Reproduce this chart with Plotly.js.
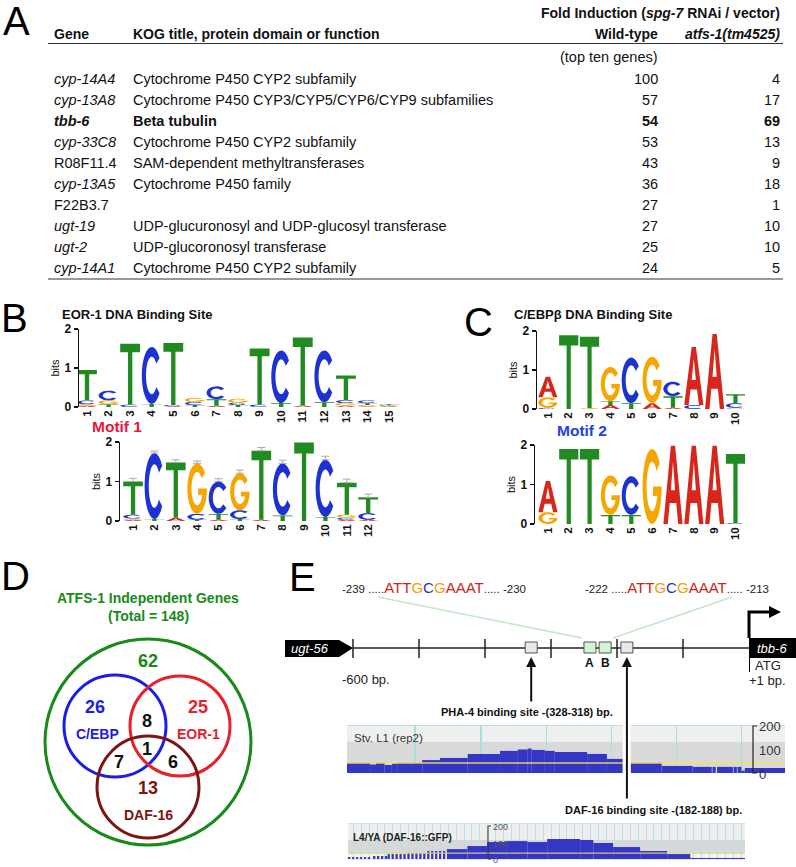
<!DOCTYPE html>
<html>
<head>
<meta charset="utf-8">
<script src="https://cdn.plot.ly/plotly-3.0.1.min.js"></script>
<style>
html, body { margin: 0; padding: 0; background: #fff; }
#graph { width: 796px; height: 867px; }
</style>
</head>
<body>
<div id="graph"></div>
<script>
var W = 796, H = 867;
var FONT = "Liberation Sans, Arial, Helvetica, sans-serif";

// ---------- A: table
var genes = ["cyp-14A4", "cyp-13A8", "tbb-6", "cyp-33C8", "R08F11.4", "cyp-13A5", "F22B3.7", "ugt-19", "ugt-2", "cyp-14A1"];
var geneItalic = [true, true, true, true, false, true, false, true, true, true];
var functions = [
    "Cytochrome P450 CYP2 subfamily",
    "Cytochrome P450 CYP3/CYP5/CYP6/CYP9 subfamilies",
    "Beta tubulin",
    "Cytochrome P450 CYP2 subfamily",
    "SAM-dependent methyltransferases",
    "Cytochrome P450 family",
    "",
    "UDP-glucuronosyl and UDP-glucosyl transferase",
    "UDP-glucoronosyl transferase",
    "Cytochrome P450 CYP2 subfamily"
];
var wildTypeFold = [100, 57, 54, 53, 43, 36, 27, 27, 25, 24];
var atfsFold = [4, 17, 69, 13, 9, 18, 1, 10, 10, 5];
var boldGene = "tbb-6";

// ---------- B / C: sequence logos, each stack bottom -> top [base, bits]
var eorSite = [
    [["A", 0.03], ["G", 0.04], ["C", 0.10], ["T", 0.78]],
    [["T", 0.07], ["G", 0.10], ["C", 0.25]],
    [["C", 0.06], ["T", 1.56]],
    [["T", 0.08], ["C", 1.46]],
    [["A", 0.02], ["C", 0.03], ["T", 1.59]],
    [["T", 0.05], ["C", 0.08], ["G", 0.10]],
    [["A", 0.03], ["T", 0.17], ["C", 0.33]],
    [["T", 0.05], ["C", 0.06], ["G", 0.10]],
    [["C", 0.06], ["T", 1.44]],
    [["T", 0.10], ["C", 1.35]],
    [["A", 0.04], ["T", 1.74]],
    [["T", 0.12], ["C", 1.33]],
    [["A", 0.04], ["G", 0.06], ["C", 0.08], ["T", 0.63]],
    [["A", 0.02], ["G", 0.03], ["T", 0.05], ["C", 0.07]],
    [["G", 0.02], ["C", 0.02], ["T", 0.03]]
];
var motif1 = [
    [["A", 0.03], ["G", 0.03], ["C", 0.10], ["T", 0.84]],
    [["T", 0.05], ["C", 1.67]],
    [["A", 0.08], ["T", 1.40]],
    [["T", 0.03], ["C", 0.15], ["G", 1.28]],
    [["A", 0.03], ["T", 0.15], ["C", 0.82]],
    [["T", 0.05], ["C", 0.22], ["G", 0.94]],
    [["A", 0.03], ["T", 1.75]],
    [["T", 0.14], ["C", 1.32]],
    [["T", 1.99]],
    [["T", 0.10], ["C", 1.45]],
    [["A", 0.03], ["C", 0.05], ["G", 0.08], ["T", 0.81]],
    [["A", 0.03], ["C", 0.17], ["T", 0.40]]
];
var motif1Err = [0.08, 0.05, 0.07, 0.06, 0.07, 0.08, 0.08, 0.08, 0.06, 0.09, 0.09, 0.08];
var cebpSite = [
    [["C", 0.03], ["G", 0.27], ["A", 0.53]],
    [["T", 1.89]],
    [["G", 0.02], ["T", 1.83]],
    [["A", 0.10], ["T", 0.10], ["G", 0.88]],
    [["T", 0.15], ["C", 1.17]],
    [["A", 0.15], ["G", 1.19]],
    [["A", 0.03], ["T", 0.30], ["C", 0.37]],
    [["C", 0.10], ["A", 1.49]],
    [["A", 1.92]],
    [["G", 0.03], ["C", 0.12], ["T", 0.23]]
];
var motif2 = [
    [["G", 0.30], ["A", 0.79]],
    [["T", 1.90]],
    [["T", 1.90]],
    [["T", 0.23], ["G", 1.00]],
    [["T", 0.23], ["C", 0.98]],
    [["G", 1.90]],
    [["A", 1.98]],
    [["A", 1.98]],
    [["A", 1.98]],
    [["C", 0.02], ["T", 1.75]]
];

// ---------- D: Venn
var vennCounts = [62, 26, 25, 8, 1, 7, 6, 13];
var vennSets = ["C/EBP", "EOR-1", "DAF-16"];

// ---------- E: promoter and coverage tracks (bp)
var promoterTicks = [-600, -500, -400, -300, -200, -100];
var siteCenters = [-330, -241, -218, -185]; // PHA-4, A, B, DAF-16
var seqA = "ATTGCGAAAT";
var trk1Start = [-609, -574, -565, -552, -541, -533, -495, -468, -426, -377, -350, -335, -329, -309, -294, -245, -215, -179, -132, -85, -55, -48, -23, -17, -11, -6];
var trk1End   = [-574, -565, -552, -541, -533, -495, -468, -426, -377, -350, -335, -329, -309, -294, -245, -215, -191, -132, -85, -56, -50, -24, -18, -11, -6, 55];
var trk1Val   = [43, 36, 43, 34, 40, 43, 55, 64, 81, 94, 100, 104, 98, 94, 89, 81, 60, 43, 30, 26, 26, 26, 26, 26, 10, 21];
var trk2Start = [-608, -570, -548, -518, -488, -458, -427, -397, -367, -336, -306, -256, -236, -206, -165, -124, -89];
var trk2End   = [-570, -548, -518, -488, -458, -427, -397, -367, -336, -306, -256, -236, -206, -165, -124, -89, -6];
var trk2Val   = [12, 19, 31, 37, 50, 62, 81, 106, 112, 106, 125, 119, 100, 75, 50, 31, 6];
var trk2Striped = 5; // first segments drawn as thin columns

// ---------- helpers
var baseColor = { A: "#d8261c", C: "#1e32d2", G: "#f6a600", T: "#218a21" };
var seqColor = { A: "#cc2418", T: "#cc2418", G: "#f0a000", C: "#2233cc" };

function bpX(bp) { return 353 + (bp + 600) * 0.66; }

function ann(text, x, y, o) {
    o = o || {};
    return {
        text: text, x: x, y: y, xref: "x", yref: "y", showarrow: false,
        xanchor: o.xa || "left", yanchor: "middle",
        font: { family: FONT, size: o.size || 14.5, color: o.color || "#111", weight: o.weight || "normal" }
    };
}

function arc(rx, ry, a0, a1) {
    var pts = [], n = 24;
    for (var i = 0; i <= n; i++) {
        var a = (a0 + (a1 - a0) * i / n) * Math.PI / 180;
        pts.push([0.5 + rx * Math.cos(a), 0.5 + ry * Math.sin(a)]);
    }
    return pts;
}

var glyphs = {
    T: [[[0, 1], [1, 1], [1, 0.86], [0.61, 0.86], [0.61, 0], [0.39, 0], [0.39, 0.86], [0, 0.86]]],
    A: [[[0, 0], [0.39, 1], [0.61, 1], [1, 0], [0.77, 0], [0.67, 0.27], [0.33, 0.27], [0.23, 0]],
        [[0.39, 0.43], [0.5, 0.8], [0.61, 0.43]]],
    C: [arc(0.5, 0.5, 38, 322).concat(arc(0.29, 0.33, 322, 38))],
    G: [arc(0.5, 0.5, 38, 360).concat([[0.55, 0.5], [0.55, 0.37]]).concat(arc(0.29, 0.33, 338, 38))]
};

function letterPath(ch, xc, w, y0, h) {
    return glyphs[ch].map(function (ring) {
        return "M" + ring.map(function (p) {
            return (xc - w / 2 + p[0] * w).toFixed(4) + "," + (y0 + p[1] * h).toFixed(4);
        }).join("L") + "Z";
    }).join(" ");
}

var shapes = [];
var annotations = [];
var data = [];
var layout = {
    width: W, height: H,
    margin: { l: 0, r: 0, t: 0, b: 0 },
    paper_bgcolor: "#fff", plot_bgcolor: "rgba(0,0,0,0)",
    showlegend: false,
    font: { family: FONT },
    xaxis: { domain: [0, 1], range: [0, W], visible: false, fixedrange: true },
    yaxis: { domain: [0, 1], range: [H, 0], visible: false, fixedrange: true }
};

// ---------- panel letters
[["A", 16, 21], ["B", 14, 318], ["C", 478, 322], ["D", 15, 576], ["E", 302, 577]].forEach(function (p) {
    annotations.push(ann(p[0], p[1], p[2], { xa: "center", size: 40, color: "#000" }));
});

// ---------- A table
annotations.push(ann("Fold Induction (<i>spg-7</i> RNAi / vector)", 782, 13, { xa: "right", size: 14, weight: "bold" }));
annotations.push(ann("Gene", 52, 34, { size: 14, weight: "bold" }));
annotations.push(ann("KOG title, protein domain or function", 131, 34, { size: 14, weight: "bold" }));
annotations.push(ann("Wild-type", 660, 34, { xa: "right", size: 14, weight: "bold" }));
annotations.push(ann("<i>atfs-1(tm4525)</i>", 782, 34, { xa: "right", size: 14, weight: "bold" }));
annotations.push(ann("(top ten genes)", 660, 57, { xa: "right" }));
shapes.push({ type: "line", xref: "x", yref: "y", x0: 48, x1: 783, y0: 43.5, y1: 43.5, line: { color: "#333", width: 1.2 } });
shapes.push({ type: "line", xref: "x", yref: "y", x0: 48, x1: 783, y0: 279, y1: 279, line: { color: "#333", width: 1.2 } });
genes.forEach(function (g, i) {
    var y = 79 + i * 21;
    var bold = g === boldGene;
    var w = bold ? "bold" : "normal";
    annotations.push(ann(geneItalic[i] ? "<i>" + g + "</i>" : g, 52, y, { weight: w }));
    if (functions[i]) annotations.push(ann(functions[i], 131, y, { weight: w }));
    annotations.push(ann(String(wildTypeFold[i]), 660, y, { xa: "right", weight: w }));
    annotations.push(ann(String(atfsFold[i]), 782, y, { xa: "right", weight: w }));
});

// ---------- logos
function addLogo(idx, stacks, pxL, pxR, x0, x1, pyTop, pyBot) {
    var xs = "x" + idx, ys = "y" + idx;
    var ticks = stacks.map(function (s, i) { return i + 1; });
    layout["xaxis" + idx] = {
        domain: [pxL / W, pxR / W], range: [x0, x1], anchor: ys,
        showline: false, zeroline: false, showgrid: false, ticks: "",
        tickvals: ticks, ticktext: ticks.map(String), tickangle: -90,
        tickfont: { family: FONT, size: 11.5, color: "#111", weight: "bold" }, fixedrange: true
    };
    layout["yaxis" + idx] = {
        domain: [1 - pyBot / H, 1 - pyTop / H], range: [0, 2], anchor: xs,
        showline: true, linecolor: "#111", linewidth: 1.5, ticks: "outside", ticklen: 4, tickwidth: 1.5,
        tickcolor: "#111", tickvals: [0, 1, 2], showgrid: false, zeroline: false,
        tickfont: { family: FONT, size: 12, color: "#111", weight: "bold" },
        title: { text: "bits", font: { family: FONT, size: 11, color: "#111" }, standoff: 2 },
        fixedrange: true
    };
    stacks.forEach(function (stack, i) {
        var y0 = 0;
        stack.forEach(function (b) {
            shapes.push({
                type: "path", xref: xs, yref: ys, layer: "below",
                path: letterPath(b[0], i + 1, 0.92, y0, b[1]),
                fillcolor: baseColor[b[0]], line: { width: 0 }
            });
            y0 += b[1];
        });
    });
    // empty trace so the subplot exists
    data.push({ type: "scatter", x: [ticks[0]], y: [0], xaxis: xs, yaxis: ys, mode: "markers", marker: { opacity: 0 }, hoverinfo: "skip" });
}

addLogo(2, eorSite, 79, 402, 0.63, 15.6, 329, 407);
addLogo(3, motif1, 120, 381, 0.39, 12.6, 442, 521);
addLogo(4, cebpSite, 537, 748, 0.48, 10.6, 331, 409);
addLogo(5, motif2, 535, 748, 0.38, 10.6, 445, 524);

data.push({
    type: "scatter", xaxis: "x3", yaxis: "y3", mode: "markers", cliponaxis: false,
    x: motif1.map(function (s, i) { return i + 1; }),
    y: motif1.map(function (s) { return s.reduce(function (a, b) { return a + b[1]; }, 0); }),
    marker: { size: 1, opacity: 0 },
    error_y: { type: "data", symmetric: false, array: motif1Err, arrayminus: [0, 0, 0, 0, 0, 0, 0, 0, 0, 0, 0, 0], color: "#aaa", thickness: 1, width: 4 },
    hoverinfo: "skip"
});

annotations.push(ann("EOR-1 DNA Binding Site", 60, 314, { size: 13, weight: "bold" }));
annotations.push(ann("C/EBPβ DNA Binding Site", 512, 314, { size: 13, weight: "bold" }));
annotations.push(ann("Motif 1", 90, 426, { size: 15.5, weight: "bold", color: "#e8173c" }));
annotations.push(ann("Motif 2", 555, 430, { size: 15.5, weight: "bold", color: "#1f3fe8" }));

// ---------- D Venn
var green = "#188a18", blue = "#1c1ce8", red = "#e8202a", dark = "#7d1414";
[[148, 742, 103, green], [115, 726, 51, blue], [180, 726, 50, red], [148, 787, 51, dark]].forEach(function (c) {
    shapes.push({ type: "circle", xref: "x", yref: "y", x0: c[0] - c[2], x1: c[0] + c[2], y0: c[1] - c[2], y1: c[1] + c[2], line: { color: c[3], width: 3 } });
});
var total = vennCounts.reduce(function (a, b) { return a + b; }, 0);
annotations.push(ann("ATFS-1 Independent Genes", 148, 598, { xa: "center", size: 14, weight: "bold", color: green }));
annotations.push(ann("(Total = " + total + ")", 148, 616, { xa: "center", size: 14, weight: "bold", color: green }));
data.push({
    type: "scatter", mode: "text", xaxis: "x", yaxis: "y",
    x: [148, 95, 198, 147, 147, 119, 173, 148],
    y: [662, 708, 708, 722, 750, 763, 763, 789],
    text: vennCounts.map(String),
    textfont: { family: FONT, size: 18, weight: "bold", color: [green, blue, red, "#111", "#111", "#111", "#111", dark] },
    hoverinfo: "skip"
});
annotations.push(ann(vennSets[0], 97, 734, { xa: "center", size: 14, weight: "bold", color: blue }));
annotations.push(ann(vennSets[1], 198, 734, { xa: "center", size: 14, weight: "bold", color: red }));
annotations.push(ann(vennSets[2], 148, 815, { xa: "center", size: 14, weight: "bold", color: dark }));

// ---------- E promoter diagram
function seqHtml(s) {
    return s.split("").map(function (c) {
        return '<span style="color:' + seqColor[c] + ';font-size:15px">' + c + "</span>";
    }).join("");
}
annotations.push(ann("-239 ....." + seqHtml(seqA) + "..... -230", 340, 587, { size: 11.5, color: "#222" }));
annotations.push(ann("-222 ....." + seqHtml(seqA) + "..... -213", 583, 587, { size: 11.5, color: "#222" }));
shapes.push({ type: "line", xref: "x", yref: "y", x0: 378, y0: 597, x1: bpX(siteCenters[1]) - 8, y1: 638, line: { color: "#c6e6c6", width: 1.5 } });
shapes.push({ type: "line", xref: "x", yref: "y", x0: 732, y0: 597, x1: bpX(siteCenters[2]) + 8, y1: 638, line: { color: "#c6e6c6", width: 1.5 } });

shapes.push({ type: "line", xref: "x", yref: "y", x0: bpX(-600), x1: bpX(0), y0: 648, y1: 648, line: { color: "#222", width: 1.5 } });
promoterTicks.forEach(function (t) {
    shapes.push({ type: "line", xref: "x", yref: "y", x0: bpX(t), x1: bpX(t), y0: 639, y1: 658, line: { color: "#222", width: 1.5 } });
});
siteCenters.forEach(function (c, i) {
    var fill = (i === 1 || i === 2) ? "#d3f5d3" : "#e8e8e8";
    shapes.push({ type: "rect", xref: "x", yref: "y", x0: bpX(c) - 6, x1: bpX(c) + 6, y0: 642, y1: 653, fillcolor: fill, line: { color: "#555", width: 1 } });
});
shapes.push({ type: "path", xref: "x", yref: "y", path: "M285,640 L339,640 L353,648 L339,657 L285,657 Z", fillcolor: "#000", line: { width: 0 } });
shapes.push({ type: "rect", xref: "x", yref: "y", x0: bpX(0), x1: 796, y0: 638, y1: 658, fillcolor: "#000", line: { width: 0 } });
shapes.push({ type: "path", xref: "x", yref: "y", path: "M749,638 L749,612 L771,612", line: { color: "#000", width: 3 } });
shapes.push({ type: "path", xref: "x", yref: "y", path: "M769,606 L781,612 L769,618 Z", fillcolor: "#000", line: { width: 0 } });
shapes.push({ type: "line", xref: "x", yref: "y", x0: 749.5, x1: 749.5, y0: 658, y1: 672, line: { color: "#000", width: 1 } });
annotations.push(ann("<i>ugt-56</i>", 289, 648.5, { size: 13, color: "#fff" }));
annotations.push(ann("<i>tbb-6</i>", 772, 648, { xa: "center", size: 13, color: "#fff" }));
annotations.push(ann("A", bpX(siteCenters[1]), 663, { xa: "center", size: 12, weight: "bold" }));
annotations.push(ann("B", bpX(siteCenters[2]), 663, { xa: "center", size: 12, weight: "bold" }));
annotations.push(ann("ATG", 753, 665, { size: 13, color: "#222" }));
annotations.push(ann("+1 bp.", 747, 680, { size: 13, color: "#222" }));
annotations.push(ann("-600 bp.", 366, 679, { xa: "center", size: 13, color: "#222" }));
annotations.push(ann("PHA-4 binding site -(328-318) bp.", 527, 712, { xa: "center", size: 11, weight: "bold" }));
annotations.push(ann("DAF-16 binding site -(182-188) bp.", 653, 810, { xa: "center", size: 11, weight: "bold" }));

// ---------- coverage tracks
var trkBlue = "#3535c6";
layout.xaxis6 = { domain: [347 / W, 785 / W], range: [-609, 55], anchor: "y6", showline: false, zeroline: false, ticks: "",
    showticklabels: false, tickvals: [-506, -406, -306, -208, -109, -11], showgrid: true, gridcolor: "#a9dede", gridwidth: 1.2, fixedrange: true };
layout.yaxis6 = { domain: [1 - 773 / H, 1 - 725 / H], range: [0, 204], anchor: "x6", visible: false, fixedrange: true };
layout.xaxis7 = { domain: [348 / W, 745 / W], range: [-608, -6], anchor: "y7", showline: false, zeroline: false, ticks: "",
    showticklabels: false, dtick: 12, tick0: -600, showgrid: true, gridcolor: "#b4e2e8", gridwidth: 1, fixedrange: true };
layout.yaxis7 = { domain: [1 - 860 / H, 1 - 823 / H], range: [-6, 225], anchor: "x7", visible: false, fixedrange: true };

shapes.push({ type: "rect", xref: "x6", yref: "y6", layer: "below", x0: -609, x1: 55, y0: 132, y1: 204, fillcolor: "#efefef", line: { width: 0 } });
shapes.push({ type: "rect", xref: "x6", yref: "y6", layer: "below", x0: -609, x1: 55, y0: 0, y1: 132, fillcolor: "#d9d9d9", line: { width: 0 } });
shapes.push({ type: "rect", xref: "x7", yref: "y7", layer: "below", x0: -608, x1: -6, y0: 119, y1: 225, fillcolor: "#eeeeee", line: { width: 0 } });
shapes.push({ type: "rect", xref: "x7", yref: "y7", layer: "below", x0: -608, x1: -6, y0: 37, y1: 119, fillcolor: "#d8d8d8", line: { width: 0 } });
shapes.push({ type: "rect", xref: "x7", yref: "y7", layer: "below", x0: -608, x1: -6, y0: -6, y1: 37, fillcolor: "#f1f1f1", line: { width: 0 } });

data.push({
    type: "bar", xaxis: "x6", yaxis: "y6",
    x: trk1Start.map(function (s, i) { return (s + trk1End[i]) / 2; }),
    width: trk1Start.map(function (s, i) { return trk1End[i] - s; }),
    y: trk1Val, marker: { color: trkBlue, line: { width: 0 } }, hoverinfo: "skip"
});

var t2x = [], t2w = [], t2y = [];
trk2Start.forEach(function (s, i) {
    if (i < trk2Striped) {
        for (var p = s; p + 3.5 <= trk2End[i]; p += 6) { t2x.push(p + 1.75); t2w.push(3.5); t2y.push(trk2Val[i]); }
    } else {
        t2x.push((s + trk2End[i]) / 2); t2w.push(trk2End[i] - s); t2y.push(trk2Val[i]);
    }
});
data.push({
    type: "bar", xaxis: "x7", yaxis: "y7", x: t2x, width: t2w, y: t2y,
    marker: { color: trkBlue, line: { width: 0 } }, hoverinfo: "skip"
});

shapes.push({ type: "line", xref: "x6", yref: "y6", x0: -609, x1: 55, y0: 204, y1: 204, line: { color: "#a9dede", width: 1.5 } });
shapes.push({ type: "line", xref: "x6", yref: "y6", x0: -609, x1: 55, y0: 43, y1: 43, line: { color: "rgba(240,228,80,0.9)", width: 1.5 } });
shapes.push({ type: "rect", xref: "x6", yref: "y6", x0: -191, x1: -179, y0: 0, y1: 204, fillcolor: "#fff", line: { width: 0 } });
shapes.push({ type: "line", xref: "x7", yref: "y7", x0: -608, x1: -6, y0: 225, y1: 225, line: { color: "#b4e2e8", width: 1.5 } });
shapes.push({ type: "line", xref: "x7", yref: "y7", x0: -608, x1: -6, y0: 37, y1: 37, line: { color: "rgba(225,210,130,0.9)", width: 1.3 } });

// scale brackets
shapes.push({ type: "path", xref: "x", yref: "y", path: "M757,726 L753,726 L753,773 L757,773", line: { color: "#222", width: 1.2 } });
annotations.push(ann("200", 757, 726, { size: 13, color: "#333" }));
annotations.push(ann("100", 757, 750, { size: 13, color: "#333" }));
annotations.push(ann("0", 757, 774, { size: 13, color: "#333" }));
shapes.push({ type: "path", xref: "x", yref: "y", path: "M491,826 L488,826 L488,859 L491,859", line: { color: "#333", width: 1 } });
annotations.push(ann("200", 491, 827, { size: 9, color: "#555" }));
annotations.push(ann("100", 491, 844, { size: 9, color: "#555" }));
annotations.push(ann("0", 491, 860, { size: 9, color: "#555" }));

annotations.push(ann("Stv. L1 (rep2)", 352, 738, { size: 11.5, color: "#333" }));
annotations.push(ann("L4/YA (DAF-16::GFP)", 351, 837, { size: 10, weight: "bold", color: "#222" }));

// arrows to binding sites
annotations.push({ x: bpX(siteCenters[0]), y: 657, ax: bpX(siteCenters[0]), ay: 703, xref: "x", yref: "y", axref: "x", ayref: "y",
    text: "", showarrow: true, arrowhead: 2, arrowsize: 1, arrowwidth: 2, arrowcolor: "#111" });
annotations.push({ x: bpX(siteCenters[3]), y: 657, ax: bpX(siteCenters[3]), ay: 800, xref: "x", yref: "y", axref: "x", ayref: "y",
    text: "", showarrow: true, arrowhead: 2, arrowsize: 1, arrowwidth: 2, arrowcolor: "#111" });

layout.shapes = shapes;
layout.annotations = annotations;

Plotly.newPlot("graph", data, layout, { displayModeBar: false, staticPlot: true });
</script>
</body>
</html>
